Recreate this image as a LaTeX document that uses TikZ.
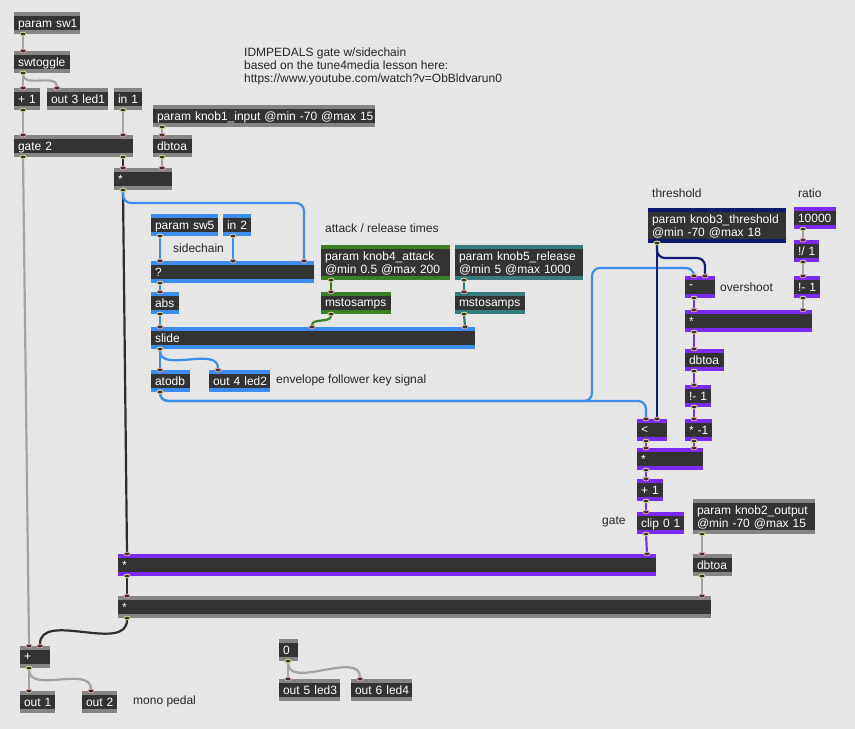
\documentclass[tikz,border=0pt]{standalone}
\usepackage{fontspec}
\setmainfont{Liberation Sans}
\usepackage{tikz}
\usetikzlibrary{arrows.meta}
\usepackage{xcolor}
\definecolor{PatchBg}{HTML}{E6E6E6}
\definecolor{BoxBody}{HTML}{333333}
\definecolor{NoteText}{HTML}{262626}
\definecolor{StripGray}{HTML}{858585}
\definecolor{StripBlue}{HTML}{3D8CF0}
\definecolor{StripGreen}{HTML}{3C7F22}
\definecolor{StripTeal}{HTML}{367C7C}
\definecolor{StripNavy}{HTML}{0E1A6E}
\definecolor{StripPurple}{HTML}{7A2BF2}
\definecolor{CordGray}{HTML}{A3A3A3}
\definecolor{CordBlack}{HTML}{2E2E2E}
\definecolor{CordNavy}{HTML}{121A7A}
\definecolor{InletRing}{HTML}{E0A0A0}
\definecolor{OutletRing}{HTML}{D8D690}
\newcommand{\maxfont}{\fontsize{12}{13}\selectfont}

\begin{document}
\begin{tikzpicture}[
    x=1pt, y=-1pt,
    obj/.style 2 args={
        anchor=north west,
        rectangle,
        fill=#1,
        text=white,
        font=\maxfont,
        minimum height=22,
        inner xsep=0,
        inner ysep=2,
        outer sep=0,
        text width=#2,
        text depth=-0.5pt,
        execute at begin node={\leftskip=4pt\rightskip=0pt plus 1fil\parindent=0pt\relax},
        path picture={
            \fill[BoxBody] ([yshift=-4pt]path picture bounding box.north west)
                rectangle ([yshift=4pt]path picture bounding box.south east);
        }
    },
    tall/.style={minimum height=35, text depth=13.5pt},
    note/.style={
        anchor=west,
        inner sep=0,
        text=NoteText,
        font=\maxfont,
        align=left
    },
    cable/.style={
        draw=#1,
        line width=2.2pt,
        {Ellipse[length=4.5pt,width=7pt,line width=0.8pt,color=OutletRing,fill=BoxBody]}-{Ellipse[length=4.5pt,width=7pt,line width=0.8pt,color=InletRing,fill=BoxBody]},
        shorten <=-2.25pt,
        shorten >=-2.25pt
    }
]

\useasboundingbox[fill=PatchBg] (0,0) rectangle (855,729);

% comments
\node[note, anchor=north west] (title) at (244,48) {IDMPEDALS gate w/sidechain\\based on the tune4media lesson here:\\https://www.youtube.com/watch?v=ObBldvarun0};
\node[note] (lsidechain) at (173,248) {sidechain};
\node[note] (ltimes) at (325,228) {attack / release times};
\node[note] (lenv) at (276,380) {envelope follower key signal};
\node[note] (lthresh) at (652,193) {threshold};
\node[note] (lratio) at (798,193) {ratio};
\node[note] (lover) at (720,287) {overshoot};
\node[note] (lgate) at (602,522) {gate};
\node[note] (lmono) at (133,701) {mono pedal};

% input side
\node[obj={StripGray}{66}] (sw1) at (14,12) {param sw1};
\node[obj={StripGray}{56}] (swt) at (14,51) {swtoggle};
\node[obj={StripGray}{26}] (plus1) at (14,88) {+ 1};
\node[obj={StripGray}{61}] (out3) at (47,88) {out 3 led1};
\node[obj={StripGray}{28}] (in1) at (114,88) {in 1};
\node[obj={StripGray}{222}] (knob1) at (153,105) {param knob1\_input @min -70 @max 15};
\node[obj={StripGray}{39}] (dbtoaA) at (153,135) {dbtoa};
\node[obj={StripGray}{119}] (gate) at (14,135) {gate 2};
\node[obj={StripGray}{58}] (mulA) at (114,168) {*};

% sidechain / envelope follower
\node[obj={StripBlue}{67}] (sw5) at (151,214) {param sw5};
\node[obj={StripBlue}{28}] (in2) at (223,214) {in 2};
\node[obj={StripBlue}{163}] (sel) at (151,261) {?};
\node[obj={StripBlue}{28}] (abs) at (151,292) {abs};
\node[obj={StripBlue}{324}] (slide) at (151,327) {slide};
\node[obj={StripBlue}{39}] (atodb) at (151,370) {atodb};
\node[obj={StripBlue}{61}] (out4) at (209,370) {out 4 led2};
\node[obj={StripGreen}{129}, tall] (knob4) at (321,245) {param knob4\_attack\\@min 0.5 @max 200};
\node[obj={StripGreen}{70}] (mstA) at (321,292) {mstosamps};
\node[obj={StripTeal}{128}, tall] (knob5) at (455,245) {param knob5\_release\\@min 5 @max 1000};
\node[obj={StripTeal}{70}] (mstR) at (455,292) {mstosamps};

% threshold / ratio
\node[obj={StripNavy}{138}, tall] (thresh) at (648,208) {param knob3\_threshold\\@min -70 @max 18};
\node[obj={StripPurple}{42}] (ratio) at (794,207) {10000};
\node[obj={StripPurple}{25}] (rdiv) at (794,240) {!/ 1};
\node[obj={StripPurple}{26}] (rsub) at (794,276) {!- 1};
\node[obj={StripPurple}{30}] (over) at (685,276) {-};
\node[obj={StripPurple}{127}] (mulB) at (685,310) {*};
\node[obj={StripPurple}{39}] (dbtoaB) at (685,349) {dbtoa};
\node[obj={StripPurple}{26}] (rsubB) at (685,385) {!- 1};
\node[obj={StripPurple}{27}] (neg) at (685,419) {* -1};
\node[obj={StripPurple}{30}] (less) at (637,419) {<};
\node[obj={StripPurple}{66}] (mulC) at (637,448) {*};
\node[obj={StripPurple}{26}] (plusG) at (637,479) {+ 1};
\node[obj={StripPurple}{47}] (clip) at (637,512) {clip 0 1};

% output side
\node[obj={StripGray}{122}, tall] (knob2) at (693,499) {param knob2\_output\\@min -70 @max 15};
\node[obj={StripGray}{39}] (dbtoaC) at (693,554) {dbtoa};
\node[obj={StripPurple}{538}] (mulD) at (118,554) {*};
\node[obj={StripGray}{593}] (mulE) at (118,596) {*};
\node[obj={StripGray}{30}] (sum) at (20,646) {+};
\node[obj={StripGray}{35}] (out1) at (20,691) {out 1};
\node[obj={StripGray}{35}] (out2) at (82,691) {out 2};
\node[obj={StripGray}{19}] (zero) at (279,639) {0};
\node[obj={StripGray}{61}] (out5) at (279,679) {out 5 led3};
\node[obj={StripGray}{61}] (out6) at (351,679) {out 6 led4};

% gray cords
\draw[cable=CordGray] ([xshift=9pt]sw1.south west) -- ([xshift=9pt]swt.north west);
\draw[cable=CordGray] ([xshift=9pt]swt.south west) -- ([xshift=9pt]plus1.north west);
\draw[cable=CordGray] ([xshift=9pt]swt.south west) to[out=-90,in=90] ([xshift=10pt]out3.north west);
\draw[cable=CordGray] ([xshift=9pt]plus1.south west) -- ([xshift=9pt]gate.north west);
\draw[cable=CordGray] ([xshift=9pt]in1.south west) -- ([xshift=109pt]gate.north west);
\draw[cable=CordGray] ([xshift=9pt]knob1.south west) -- ([xshift=9pt]dbtoaA.north west);
\draw[cable=CordGray] ([xshift=9pt]dbtoaA.south west) -- ([xshift=48pt]mulA.north west);
\draw[cable=CordGray] ([xshift=9pt]gate.south west) -- ([xshift=9pt]sum.north west);
\draw[cable=CordGray] ([xshift=9pt]ratio.south west) -- ([xshift=9pt]rdiv.north west);
\draw[cable=CordGray] ([xshift=9pt]rdiv.south west) -- ([xshift=9pt]rsub.north west);
\draw[cable=CordGray] ([xshift=9pt]rsub.south west) -- ([xshift=118pt]mulB.north west);
\draw[cable=CordGray] ([xshift=9pt]knob2.south west) -- ([xshift=9pt]dbtoaC.north west);
\draw[cable=CordGray] ([xshift=9pt]dbtoaC.south west) -- ([xshift=584pt]mulE.north west);
\draw[cable=CordGray] ([xshift=9pt]sum.south west) -- ([xshift=9pt]out1.north west);
\draw[cable=CordGray] ([xshift=9pt]sum.south west) to[out=-90,in=90] ([xshift=9pt]out2.north west);
\draw[cable=CordGray] ([xshift=9pt]zero.south west) -- ([xshift=9pt]out5.north west);
\draw[cable=CordGray] ([xshift=9pt]zero.south west) to[out=-90,in=90] ([xshift=9pt]out6.north west);

% signal cords
\draw[cable=CordBlack] ([xshift=109pt]gate.south west) -- ([xshift=9pt]mulA.north west);
\draw[cable=CordBlack] ([xshift=9pt]mulA.south west) -- ([xshift=9pt]mulD.north west);
\draw[cable=CordBlack] ([xshift=9pt]mulD.south west) -- ([xshift=9pt]mulE.north west);
\draw[cable=CordBlack] ([xshift=9pt]mulE.south west) to[out=-90,in=90] ([xshift=20pt]sum.north west);

% sidechain cords
\draw[cable=StripBlue, rounded corners=8] ([xshift=9pt]mulA.south west) -- ++(0,13) -| ([xshift=153pt]sel.north west);
\draw[cable=StripBlue] ([xshift=9pt]sw5.south west) -- ([xshift=9pt]sel.north west);
\draw[cable=StripBlue] ([xshift=10pt]in2.south west) -- ([xshift=82pt]sel.north west);
\draw[cable=StripBlue] ([xshift=9pt]sel.south west) -- ([xshift=9pt]abs.north west);
\draw[cable=StripBlue] ([xshift=9pt]abs.south west) -- ([xshift=9pt]slide.north west);
\draw[cable=StripBlue] ([xshift=9pt]slide.south west) -- ([xshift=9pt]atodb.north west);
\draw[cable=StripBlue] ([xshift=9pt]slide.south west) to[out=-90,in=90] ([xshift=9pt]out4.north west);
\draw[cable=StripBlue, rounded corners=8] ([xshift=9pt]atodb.south west) -- ++(0,9) -| ([xshift=9pt]less.north west);
\draw[cable=StripBlue, rounded corners=8] ([xshift=9pt]atodb.south west) -- ++(0,9) -- ++(432,0) |- ([yshift=8pt,xshift=9pt]over.north west) -- ([xshift=9pt]over.north west);
\draw[cable=StripGreen] ([xshift=10pt]knob4.south west) -- ([xshift=10pt]mstA.north west);
\draw[cable=StripGreen] ([xshift=10pt]mstA.south west) to[out=-90,in=90] ([xshift=161pt]slide.north west);
\draw[cable=StripTeal] ([xshift=9pt]knob5.south west) -- ([xshift=9pt]mstR.north west);
\draw[cable=StripTeal] ([xshift=9pt]mstR.south west) -- ([xshift=314pt]slide.north west);

% threshold cords
\draw[cable=CordNavy] ([xshift=9pt]thresh.south west) -- ([xshift=20pt]less.north west);
\draw[cable=CordNavy, rounded corners=8] ([xshift=9pt]thresh.south west) -- ++(0,15) -| ([xshift=20pt]over.north west);

% gain cords
\draw[cable=StripPurple] ([xshift=9pt]over.south west) -- ([xshift=9pt]mulB.north west);
\draw[cable=StripPurple] ([xshift=9pt]mulB.south west) -- ([xshift=9pt]dbtoaB.north west);
\draw[cable=StripPurple] ([xshift=9pt]dbtoaB.south west) -- ([xshift=9pt]rsubB.north west);
\draw[cable=StripPurple] ([xshift=9pt]rsubB.south west) -- ([xshift=9pt]neg.north west);
\draw[cable=StripPurple] ([xshift=9pt]less.south west) -- ([xshift=9pt]mulC.north west);
\draw[cable=StripPurple] ([xshift=9pt]neg.south west) -- ([xshift=57pt]mulC.north west);
\draw[cable=StripPurple] ([xshift=9pt]mulC.south west) -- ([xshift=9pt]plusG.north west);
\draw[cable=StripPurple] ([xshift=9pt]plusG.south west) -- ([xshift=9pt]clip.north west);
\draw[cable=StripPurple] ([xshift=9pt]clip.south west) -- ([xshift=529pt]mulD.north west);

\end{tikzpicture}
\end{document}
